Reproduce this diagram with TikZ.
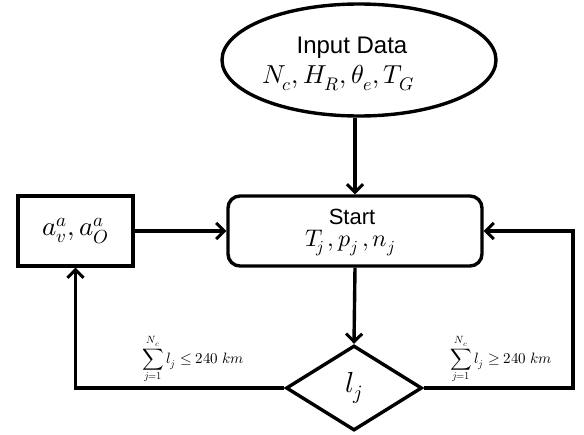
\documentclass[tikz,border=0pt]{standalone}
\usepackage{fontspec}
\usepackage{unicode-math}
\setmainfont{Liberation Sans}
\usetikzlibrary{shapes.geometric,arrows.meta}
\begin{document}
\begin{tikzpicture}[x=1pt,y=-1pt,
  every node/.style={inner sep=0pt},
  line/.style={line width=3.4pt},
  flow/.style={line, -{Straight Barb[length=8pt,width=16pt,line width=3pt]}},
  boxstyle/.style={draw, line width=3.4pt},
  labelmath/.style={font=\fontsize{15}{17}\selectfont}
]
\useasboundingbox (0,0) rectangle (584,434);

% input ellipse
\node[boxstyle, ellipse, minimum width=274pt, minimum height=112pt] (in) at (359,60) {};
\node[font=\fontsize{24}{28}\selectfont] at (352,48) {Input Data};
\node[font=\fontsize{26}{30}\selectfont] at (338,78) {$N_c, H_R, \theta_e, T_G$};

% start block
\node[boxstyle, rounded corners=12pt, minimum width=254pt, minimum height=70pt] (start) at (355,231) {};
\node[font=\fontsize{22}{26}\selectfont] at (352,217) {Start};
\node[font=\fontsize{24}{28}\selectfont] at (350,243) {$T_{\!j}\,, p_j\,, n_j$};

% side block
\node[boxstyle, minimum width=115pt, minimum height=70pt, font=\fontsize{27}{31}\selectfont] (side) at (75.5,231) {$a_v^a, a_O^a$};

% decision diamond
\node[boxstyle, diamond, minimum width=136pt, minimum height=85pt, font=\fontsize{29}{33}\selectfont] (dec) at (354,388) {$l_j$};

\coordinate (rc) at (573,388);

% connectors
\draw[flow] (in.south -| start.north) -- (start.north);
\draw[flow] (start.south) -- (dec.north);
\draw[flow] (side.east) -- (start.west);
\draw[flow] (dec.west) -| (side.south);
\draw[flow] (dec.east) -- (rc) |- (start.east);

% branch conditions
\node[labelmath] at (193,359) {$\displaystyle\sum_{j=1}^{N_c} l_j \le 240\ km$};
\node[labelmath] at (501,359) {$\displaystyle\sum_{j=1}^{N_c} l_j \ge 240\ km$};
\end{tikzpicture}
\end{document}
